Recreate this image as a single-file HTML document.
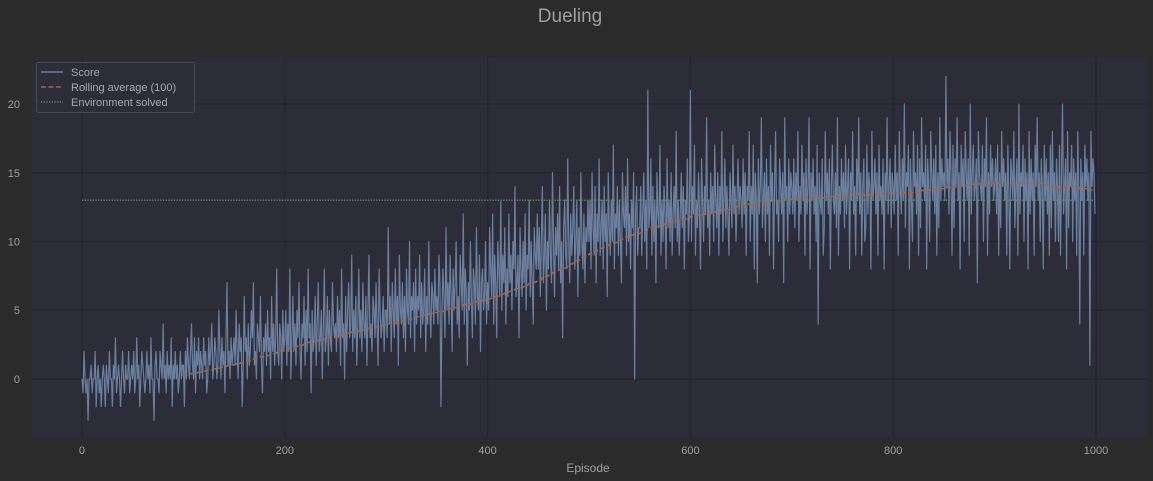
<!DOCTYPE html>
<html><head><meta charset="utf-8"><style>
html,body{margin:0;padding:0;background:#2b2b2b;}
svg{display:block;font-family:"Liberation Sans","DejaVu Sans",sans-serif;}
</style></head><body>
<svg id="chart" width="1153" height="481" viewBox="0 0 1153 481" xmlns="http://www.w3.org/2000/svg">
<rect width="1153" height="481" fill="#2b2b2b"/>
<text x="570" y="22" text-anchor="middle" font-size="19" fill="#a0a0a0">Dueling</text>
<rect x="32" y="57" width="1115" height="380" fill="#2d2d3a"/>
<g id="grid"></g>
<g id="series"></g>
<g id="axes"></g>
<text x="588" y="472" text-anchor="middle" font-size="12" fill="#a0a0a0">Episode</text>
<g>
<rect x="36.5" y="62.5" width="158" height="50" rx="2" fill="#2d2d3a" stroke="#4a4a55"/>
<g><line x1="41" y1="72" x2="63" y2="72" stroke="#6b7f9e" stroke-width="1.5"/><text x="71" y="76" font-size="11" fill="#a8a8a8">Score</text></g>
<g><line x1="41" y1="87" x2="63" y2="87" stroke="#a0664a" stroke-width="1.5" stroke-dasharray="5,2.5"/><text x="71" y="91" font-size="11" fill="#a8a8a8">Rolling average (100)</text></g>
<g><line x1="41" y1="102" x2="63" y2="102" stroke="#5e8a6a" stroke-width="1.5" stroke-dasharray="1.2,1.5"/><text x="71" y="106" font-size="11" fill="#a8a8a8">Environment solved</text></g>
</g>
</svg>
<script>
const xTicks=[0,200,400,600,800,1000];
const yTicks=[0,5,10,15,20];
const solvedScore=13;
const scores=[
0,-1,2,0,-1,0,-3,0,0,1,-1,0,0,2,-2,0,1,-1,0,-2,0,1,0,-2,1,0,-1,2,0,0,-2,1,0,3,-1,0,1,0,-2,0,2,0,-1,1,0,0,2,-1,0,1,
0,2,-1,0,3,0,1,-2,0,2,1,0,-1,0,2,0,1,-1,3,0,0,-3,1,2,0,0,-1,2,1,0,4,0,1,-1,2,0,1,0,3,-2,1,0,2,0,1,-1,0,2,0,1,
1,-2,2,0,3,1,0,2,4,1,0,3,-1,2,1,3,0,2,1,0,3,1,2,-1,0,3,1,2,4,0,1,3,2,0,1,5,2,0,3,1,2,-1,3,7,1,2,0,3,1,2,
3,1,5,2,0,4,2,3,-2,1,6,2,3,0,4,1,2,5,3,7,1,2,0,4,3,2,6,1,-1,3,2,4,1,5,2,3,0,6,2,4,1,3,8,2,1,4,3,0,5,2,
3,5,1,4,2,8,0,3,6,2,4,1,5,3,7,2,0,4,3,6,1,5,2,8,3,4,-1,5,2,3,6,1,4,7,2,3,5,0,4,8,2,3,6,1,5,3,2,7,4,3,
4,2,6,3,5,1,8,3,4,0,6,2,5,7,3,4,9,2,5,3,6,1,4,8,3,5,2,7,4,3,6,1,5,9,3,4,2,6,5,3,7,4,1,8,5,3,4,6,2,5,
5,3,11,4,6,2,7,5,3,8,4,6,1,9,5,4,7,3,6,2,8,5,4,10,3,6,5,7,2,8,4,6,5,9,3,7,4,5,8,2,6,4,10,5,3,7,6,4,8,5,
6,4,9,7,-2,5,8,6,3,11,5,7,4,9,6,2,8,5,7,10,4,6,3,9,7,5,12,4,8,6,1,7,5,10,6,3,8,7,4,11,6,5,9,2,7,8,5,6,10,4,
7,5,11,8,6,12,4,9,7,3,10,8,6,13,5,9,7,11,4,8,6,12,7,9,5,10,8,14,6,7,9,3,11,8,6,10,7,12,5,9,8,13,6,10,7,4,11,9,8,12,
8,11,6,10,14,7,9,12,5,10,8,13,9,7,15,10,6,11,9,12,8,14,7,10,3,11,13,9,8,16,10,7,12,9,11,14,8,10,13,6,11,9,15,10,8,12,7,11,10,13,
10,13,8,15,11,9,14,7,12,10,16,9,11,13,8,14,10,12,6,15,11,9,13,10,17,8,12,11,14,9,13,10,7,15,12,11,14,9,16,10,12,8,13,11,15,0,12,14,9,11,
11,14,9,12,15,10,13,8,21,11,12,16,9,14,10,13,7,15,12,11,17,9,13,10,14,12,8,16,11,13,10,15,9,12,14,11,18,10,13,9,12,15,11,14,8,13,12,16,10,12,
21,10,14,12,17,9,13,11,15,12,8,16,13,10,14,12,19,11,13,9,15,12,14,10,17,13,11,15,9,14,12,18,10,13,16,11,14,12,9,15,13,11,17,12,14,10,13,16,12,14,
13,11,16,12,15,9,14,13,18,10,14,12,17,8,15,13,7,16,12,14,19,11,13,15,10,16,12,14,9,17,13,15,8,14,18,12,13,10,16,14,12,15,7,19,13,14,10,16,12,15,
14,12,16,11,15,13,18,10,14,12,17,13,15,9,16,12,14,19,8,15,13,16,12,14,10,17,4,15,13,12,16,9,11,18,13,15,12,16,8,14,17,13,12,15,11,19,9,14,12,16,
13,15,11,17,12,14,16,8,15,13,18,12,14,9,16,13,19,12,15,9,14,16,10,11,17,12,15,14,8,18,13,14,16,12,15,9,17,13,14,12,16,8,15,13,19,12,14,16,11,15,
14,12,17,13,15,9,18,14,12,16,13,20,11,15,14,17,8,16,13,10,18,14,15,12,17,9,16,11,19,14,15,13,17,8,16,14,10,18,15,13,16,12,17,9,15,11,19,13,16,14,
15,13,22,14,16,12,18,15,9,17,11,16,14,19,13,15,8,17,14,16,10,18,15,13,16,9,20,12,15,17,13,14,16,7,18,15,14,13,17,10,16,14,19,9,15,12,17,14,16,13,
14,16,12,17,9,15,11,18,14,16,13,15,9,17,14,8,16,15,13,18,11,14,16,9,20,12,15,14,17,10,16,13,15,8,18,12,16,13,15,9,17,14,19,13,15,10,16,14,8,17,
13,16,12,15,9,17,11,18,13,15,10,16,14,10,17,9,15,20,12,14,16,8,18,11,15,14,17,10,16,13,15,9,18,14,4,16,13,15,9,17,14,16,13,15,1,18,14,16,15,12
];
const NS='http://www.w3.org/2000/svg';
const X0=32,X1=1147,Y0=57,Y1=437;
const xMin=-49.3,xMax=1050.3,yMin=-4.22,yMax=23.42;
function sx(v){return X0+(v-xMin)/(xMax-xMin)*(X1-X0);}
function sy(v){return Y1-(v-yMin)/(yMax-yMin)*(Y1-Y0);}
function mk(tag,attrs,parent){const e=document.createElementNS(NS,tag);for(const k in attrs)e.setAttribute(k,attrs[k]);parent.appendChild(e);return e;}
const grid=document.getElementById('grid'),axes=document.getElementById('axes'),series=document.getElementById('series');
xTicks.forEach(t=>{
  const l=mk('line',{x1:sx(t),x2:sx(t),y1:Y0,y2:Y1,stroke:'#25252f','stroke-width':1.2},grid);
  
  
  const tx=mk('text',{x:sx(t),y:Y1+17,'text-anchor':'middle','font-size':11,fill:'#a0a0a0'},axes);
  tx.textContent=t;
  
  
});
yTicks.forEach(t=>{
  const l=mk('line',{x1:X0,x2:X1,y1:sy(t),y2:sy(t),stroke:'#25252f','stroke-width':1.2},grid);
  
  
  const tx=mk('text',{x:X0-12,y:sy(t)+4,'text-anchor':'end','font-size':11,fill:'#a0a0a0'},axes);
  tx.textContent=t;
  
  
});
let d='';
scores.forEach((v,i)=>{d+=(i?'L':'M')+sx(i).toFixed(2)+','+sy(v).toFixed(2);});
const sp=mk('path',{d:d,fill:'none',stroke:'#6b7f9e','stroke-width':1.2,'stroke-linejoin':'round'},series);


let rd='';let sum=0;
scores.forEach((v,i)=>{sum+=v;if(i>=100)sum-=scores[i-100];if(i>=99){rd+=(i===99?'M':'L')+sx(i).toFixed(2)+','+sy(sum/100).toFixed(2);}});
const rp=mk('path',{d:rd,fill:'none',stroke:'#a0664a','stroke-width':1.5,'stroke-dasharray':'5,2.5'},series);


const sl=mk('line',{x1:sx(0),x2:sx(scores.length-1),y1:sy(solvedScore),y2:sy(solvedScore),stroke:'#5e8a6a','stroke-width':1.5,'stroke-dasharray':'1.2,1.5'},series);


</script>
</body></html>
